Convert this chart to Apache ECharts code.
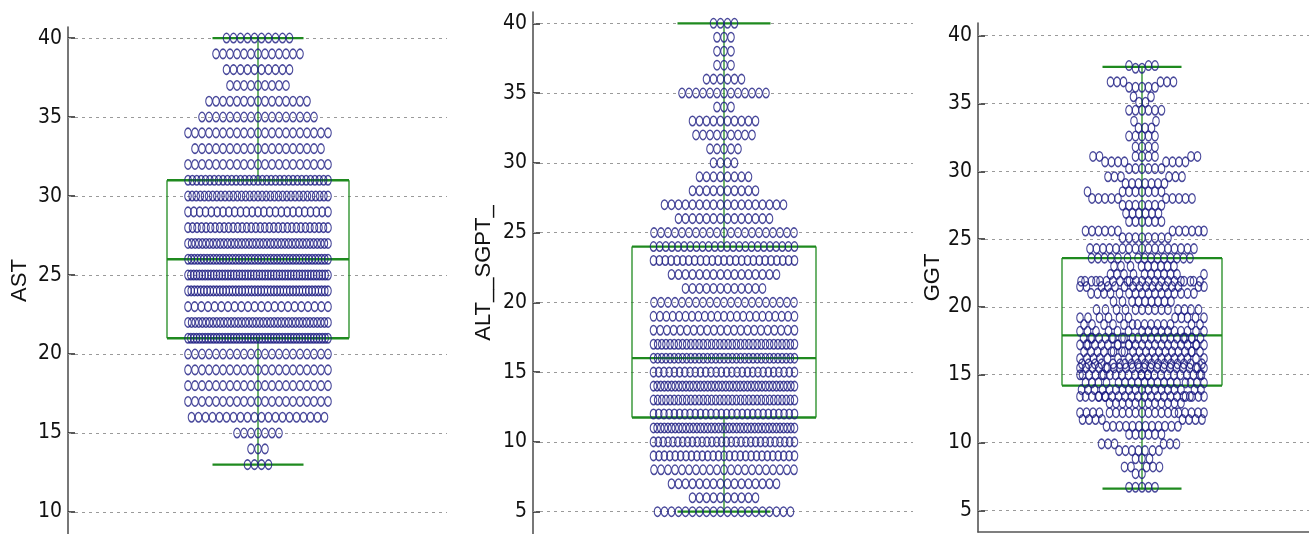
<!DOCTYPE html>
<html><head><meta charset="utf-8">
<script src="https://cdn.jsdelivr.net/npm/echarts@6/dist/echarts.min.js"></script>
<style>html,body{margin:0;padding:0;background:#fff}#c{width:1309px;height:534px}</style>
</head><body><div id="c"></div>
<script>
// ---------- DATA ----------
const axisNames = ['AST', 'ALT__SGPT_', 'GGT'];

// AST: one row of points per integer value
const astRowValues = [40,39,38,37,36,35,34,33,32,31,30,29,28,27,26,25,24,23,22,21,20,19,18,17,16,15,14,13];
const astRowCounts = [10,13,10,9,15,17,21,19,21,33,35,25,32,40,45,50,45,22,40,50,21,21,21,21,20,7,3,4];
const astStats = [13, 21, 26, 31, 40];          // lower whisker, Q1, median, Q3, upper whisker
const astTicks = [10, 15, 20, 25, 30, 35, 40];

// ALT__SGPT_
const altRowValues = [40,39,38,37,36,35,34,33,32,31,30,29,28,27,26,25,24,23,22,21,20,19,18,17,16,15,14,13,12,11,10,9,8,7,6,5];
const altRowCounts = [4,3,3,3,6,13,3,10,9,5,4,8,10,18,14,21,24,25,16,12,21,23,22,35,35,28,40,35,28,40,30,27,21,16,10,20];
const altStats = [5, 11.75, 16, 24, 40];
const altTicks = [5, 10, 15, 20, 25, 30, 35, 40];

// GGT: bands of (approximately) equal values
const ggtBandValues = [37.8,37.6,36.6,36.2,35.5,35.1,34.5,33.7,33.2,32.6,31.8,31.1,30.7,30.2,29.6,29.1,28.5,28.0,27.5,26.9,26.3,25.6,25.1,24.3,23.6,23.0,22.4,21.9,21.5,21.0,20.4,19.8,19.2,18.7,18.2,17.7,17.2,16.7,16.2,15.8,15.5,15.0,14.4,13.9,13.4,12.9,12.2,11.7,11.2,10.6,9.9,9.4,8.8,8.2,7.7,6.7];
const ggtBandCounts = [3,2,6,5,2,2,6,2,3,5,4,8,8,6,6,7,8,10,7,6,6,12,8,17,15,9,11,22,16,16,9,14,11,14,16,22,22,20,18,18,22,24,18,18,24,12,20,8,12,6,6,7,3,5,2,5];
const ggtStats = [6.6, 14.2, 17.9, 23.6, 37.7];
const ggtTicks = [5, 10, 15, 20, 25, 30, 35, 40];

// ---------- LAYOUT / STYLE ----------
const GREEN = '#1f8a1f';
const DOT = '#1c1c82';
const TICK_FONT = "'Liberation Sans Narrow', 'DejaVu Sans Condensed', 'Liberation Sans', sans-serif";
const NAME_FONT = "'Liberation Sans', sans-serif";
const panels = [
  {left:68,  top:27, width:379, height:507, min:8.61, max:40.70, xmin:-190, xmax:189, box:91, cap:45.5, nameGap:37, ticks:astTicks, stats:astStats, xline:false},
  {left:533, top:12, width:380, height:522, min:3.40, max:40.81, xmin:-191, xmax:189, box:92, cap:46.5, nameGap:38, ticks:altTicks, stats:altStats, xline:false},
  {left:978, top:23, width:331, height:509, min:3.40, max:40.94, xmin:-164, xmax:167, box:80, cap:39.5, nameGap:31, ticks:ggtTicks, stats:ggtStats, xline:true}
];

function rowLayout(values, counts, maxSpan, step) {
  const pts = [];
  values.forEach((v, i) => {
    const n = counts[i];
    const s = n > 1 ? Math.min(step, maxSpan / (n - 1)) : 0;
    for (let k = 0; k < n; k++) pts.push([(k - (n - 1) / 2) * s, v]);
  });
  return pts;
}

function swarmLayout(values, counts, pxPerUnit, maxHalf, w, h) {
  const ys = [];
  values.forEach((v, i) => { for (let k = 0; k < counts[i]; k++) ys.push(v); });
  ys.sort((a, b) => a - b);
  const placed = [], pts = [];
  ys.forEach((v, idx) => {
    const y = v * pxPerUnit;
    const near = placed.filter(p => Math.abs(p[1] - y) < h);
    let best = 0, bestScore = Infinity;
    const sgn = idx % 2 ? 1 : -1;
    outer:
    for (let a = 0; a <= maxHalf; a += 0.5) {
      const cands = a === 0 ? [0] : [sgn * a, -sgn * a];
      for (const x of cands) {
        let ov = 0;
        for (const p of near) {
          const dy = (p[1] - y) / h;
          const lim = w * Math.sqrt(Math.max(0, 1 - dy * dy));
          const dx = Math.abs(p[0] - x);
          if (dx < lim) ov += (lim - dx);
        }
        if (ov === 0) { best = x; bestScore = 0; break outer; }
        if (ov < bestScore - 1e-9) { bestScore = ov; best = x; }
      }
    }
    placed.push([best, y]);
    pts.push([best, v]);
  });
  return pts;
}

const dotSets = [
  rowLayout(astRowValues, astRowCounts, 140, 7),
  rowLayout(altRowValues, altRowCounts, 141, 7),
  swarmLayout(ggtBandValues, ggtBandCounts, panels[2].height / (panels[2].max - panels[2].min), 62, 6.5, 9)
];

function boxRender(boxHalf, capHalf) {
  return function (params, api) {
    const lo = api.value(1), q1 = api.value(2), med = api.value(3), q3 = api.value(4), hi = api.value(5);
    const x0 = api.coord([0, med])[0];
    const yLo = api.coord([0, lo])[1], yQ1 = api.coord([0, q1])[1], yMed = api.coord([0, med])[1];
    const yQ3 = api.coord([0, q3])[1], yHi = api.coord([0, hi])[1];
    const xL = api.coord([-boxHalf, med])[0], xR = api.coord([boxHalf, med])[0];
    const cL = api.coord([-capHalf, med])[0], cR = api.coord([capHalf, med])[0];
    const thin = {stroke: GREEN, lineWidth: 1.3, fill: null};
    const thick = {stroke: GREEN, lineWidth: 2.3, fill: null};
    const L = (x1, y1, x2, y2, st) => ({type: 'line', shape: {x1, y1, x2, y2}, style: st});
    return {type: 'group', children: [
      L(x0, yHi, x0, yQ3, thin),
      L(x0, yQ1, x0, yLo, thin),
      L(cL, yHi, cR, yHi, thick),
      L(cL, yLo, cR, yLo, thick),
      L(xL, yQ3, xL, yQ1, thin),
      L(xR, yQ3, xR, yQ1, thin),
      L(xL, yQ3, xR, yQ3, thick),
      L(xL, yQ1, xR, yQ1, thick),
      L(xL, yMed, xR, yMed, thick)
    ]};
  };
}

const grid = [], xAxis = [], yAxis = [], series = [];
panels.forEach((p, i) => {
  grid.push({left: p.left, top: p.top, width: p.width, height: p.height, containLabel: false});
  xAxis.push({
    gridIndex: i, type: 'value', min: p.xmin, max: p.xmax, position: 'bottom',
    axisLine: {show: p.xline, onZero: false, lineStyle: {color: '#555', width: 1.5}},
    axisTick: {show: false}, axisLabel: {show: false}, splitLine: {show: false}
  });
  yAxis.push({
    gridIndex: i, type: 'value', min: p.min, max: p.max, position: 'left',
    name: axisNames[i], nameLocation: 'middle', nameGap: p.nameGap,
    nameTextStyle: {fontFamily: NAME_FONT, fontSize: 22, color: '#111'},
    axisLine: {show: true, onZero: false, lineStyle: {color: '#555', width: 1.6}},
    axisTick: {show: true, inside: true, length: 7, customValues: p.ticks, lineStyle: {color: '#222', width: 1.5}},
    axisLabel: {customValues: p.ticks, fontFamily: TICK_FONT, fontSize: 21, color: '#111', margin: 6},
    splitLine: {show: false}
  });
  series.push({
    type: 'custom', xAxisIndex: i, yAxisIndex: i, z: 2,
    data: [[0].concat(p.stats)], encode: {x: 0, y: [1, 2, 3, 4, 5]},
    renderItem: boxRender(p.box, p.cap), silent: true,
    markLine: {
      silent: true, symbol: ['none', 'none'], label: {show: false}, z: 1,
      lineStyle: {color: '#9a9a9a', type: [3, 4], width: 1},
      data: p.ticks.map(v => ({yAxis: v}))
    }
  });
  series.push({
    type: 'scatter', xAxisIndex: i, yAxisIndex: i, z: 3,
    symbol: 'circle', symbolSize: [6.5, 9.5],
    itemStyle: {color: 'rgba(255,255,255,0)', borderColor: DOT, borderWidth: 1.3},
    data: dotSets[i], silent: true
  });
});

const chart = echarts.init(document.getElementById('c'));
chart.setOption({animation: false, backgroundColor: '#fff', grid, xAxis, yAxis, series});
</script>
</body></html>
